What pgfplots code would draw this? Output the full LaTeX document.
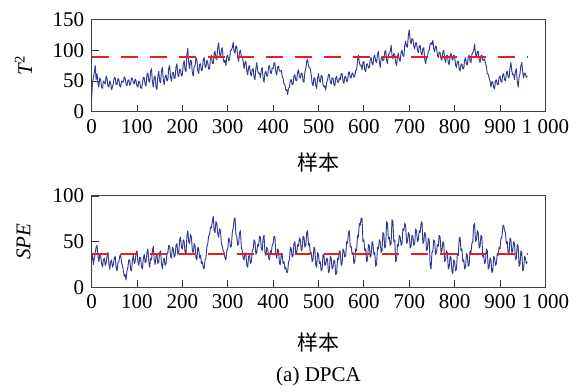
\documentclass[border=0pt]{standalone}
\usepackage{pgfplots}
\pgfplotsset{compat=1.18}
\usepackage{fontspec}
\setmainfont{Liberation Serif}
\newfontfamily\cjk{Noto Sans CJK SC}
\definecolor{lineblue}{RGB}{50,60,145}
\definecolor{thred}{RGB}{235,30,30}
\pgfplotsset{
 myax/.style={scale only axis, width=453.8bp, xmin=0, xmax=1000,
  xtick={0,100,...,1000},
  xticklabels={0,100,200,300,400,500,600,700,800,900,1\ 000},
  tick align=inside, xtick pos=bottom, ytick pos=left,
  major tick length=7bp, tick style={line width=0.9bp, black!80},
  axis line style={line width=1bp, black!75},
  ticklabel style={font=\fontsize{21bp}{24bp}\selectfont},
  xticklabel style={yshift=-4bp},
  yticklabel style={xshift=-4bp},
  /pgf/number format/assume math mode=true,
  label style={font=\fontsize{21bp}{24bp}\selectfont},
  xlabel={\cjk 样本},
  ylabel style={at={(axis description cs:-0.15,0.5)}, anchor=center},
  anchor=south west, clip=true},
 dataline/.style={lineblue, line width=0.95bp, line join=round},
 limline/.style={thred, line width=1.4bp, dash pattern=on 17bp off 12bp},
}
\begin{document}
\begin{tikzpicture}
\useasboundingbox (0,0) rectangle (579bp,392bp);
\begin{axis}[myax, at={(91.6bp,280.3bp)}, height=92.2bp, ymin=0, ymax=150, ytick={0,50,100,150},
  ylabel={\textit{T}\textsuperscript{2}},
  xlabel style={at={(axis description cs:0.5,-0.55)}, anchor=center}]
\addplot[dataline] coordinates {
(0,20)(2,48)(4,55)(6,64)(8,75)(10,52)(12,62)(14,46)(16,40)(18,55)(20,52)(22,40)(24,38)(26,50)(28,48)(30,45)(32,58)(34,54)(36,42)(38,40)(40,50)(42,46)(44,36)(46,40)(48,47)(50,56)(52,55)(54,44)(56,44)(58,54)(60,52)(62,42)(64,40)(66,50)(68,49)(70,48)(72,57)(74,54)(76,45)(78,42)(80,51)(82,52)(84,43)(86,46)(88,55)(90,54)(92,47)(94,45)(96,53)(98,50)(100,42)(102,40)(104,50)(106,48)(108,39)(110,38)(112,46)(114,56)(116,55)(118,44)(120,42)(122,60)(124,63)(126,50)(128,48)(130,66)(132,70)(134,48)(136,40)(138,56)(140,58)(142,40)(144,36)(146,58)(148,66)(150,50)(152,47)(154,67)(156,72)(158,52)(160,44)(162,57)(164,60)(166,50)(168,52)(170,71)(172,75)(174,56)(176,50)(178,63)(180,64)(182,54)(184,55)(186,73)(188,78)(190,60)(192,57)(194,69)(196,68)(198,58)(200,60)(202,77)(204,83)(206,68)(208,65)(210,93)(212,103)(214,80)(216,70)(218,84)(220,82)(222,63)(224,58)(226,73)(228,75)(230,88)(232,85)(234,66)(236,62)(238,77)(240,78)(242,67)(244,68)(246,85)(248,88)(250,73)(252,72)(254,84)(256,80)(258,69)(260,70)(262,88)(264,92)(266,79)(268,78)(270,95)(272,98)(274,86)(276,85)(278,105)(280,112)(282,94)(284,88)(286,101)(288,104)(290,86)(292,80)(294,84)(296,75)(298,90)(300,92)(302,83)(304,85)(306,99)(308,100)(310,104)(312,113)(314,98)(316,95)(318,107)(320,106)(322,88)(324,82)(326,97)(328,100)(330,90)(332,88)(334,83)(336,70)(338,80)(340,82)(342,66)(344,60)(346,73)(348,75)(350,62)(352,58)(354,69)(356,70)(358,56)(360,52)(362,71)(364,80)(366,66)(368,62)(370,63)(372,55)(374,68)(376,72)(378,54)(380,48)(382,63)(384,66)(386,58)(388,58)(390,73)(392,75)(394,64)(396,62)(398,71)(400,70)(402,80)(404,78)(406,64)(408,60)(410,73)(412,74)(414,66)(416,66)(418,67)(420,58)(422,54)(424,45)(426,44)(428,35)(430,36)(432,28)(434,38)(436,40)(438,52)(440,52)(442,44)(444,45)(446,58)(448,60)(450,51)(452,50)(454,65)(456,68)(458,56)(460,55)(462,63)(464,62)(466,50)(468,48)(470,65)(472,70)(474,82)(476,85)(478,74)(480,72)(482,70)(484,60)(486,46)(488,42)(490,55)(492,55)(494,42)(496,38)(498,55)(500,62)(502,50)(504,48)(506,59)(508,58)(510,44)(512,40)(514,42)(516,35)(518,48)(520,52)(522,61)(524,60)(526,48)(528,45)(530,55)(532,55)(534,44)(536,42)(538,55)(540,58)(542,48)(544,48)(546,55)(548,52)(550,62)(552,62)(554,50)(556,46)(558,57)(560,57)(562,49)(564,50)(566,63)(568,65)(570,56)(572,55)(574,63)(576,62)(578,56)(580,58)(582,67)(584,68)(586,84)(588,92)(590,80)(592,75)(594,76)(596,68)(598,80)(600,82)(602,68)(604,65)(606,77)(608,78)(610,71)(612,72)(614,85)(616,88)(618,78)(620,76)(622,89)(624,92)(626,82)(628,80)(630,93)(632,98)(634,81)(636,72)(638,87)(640,90)(642,83)(644,84)(646,97)(648,100)(650,84)(652,78)(654,92)(656,96)(658,98)(660,108)(662,92)(664,86)(666,95)(668,92)(670,80)(672,75)(674,90)(676,95)(678,84)(680,82)(682,97)(684,100)(686,91)(688,90)(690,107)(692,115)(694,106)(696,105)(698,124)(700,133)(702,116)(704,110)(706,119)(708,118)(710,106)(712,102)(714,112)(716,112)(718,100)(720,96)(722,107)(724,108)(726,96)(728,92)(730,103)(732,104)(734,86)(736,78)(738,87)(740,88)(742,99)(744,100)(746,110)(748,112)(750,109)(752,116)(754,102)(756,98)(758,107)(760,105)(762,92)(764,88)(766,97)(768,96)(770,86)(772,84)(774,97)(776,100)(778,86)(780,80)(782,91)(784,92)(786,80)(788,76)(790,91)(792,95)(794,86)(796,84)(798,92)(800,90)(802,76)(804,72)(806,82)(808,82)(810,70)(812,66)(814,77)(816,78)(818,70)(820,70)(822,84)(824,88)(826,78)(828,76)(830,89)(832,92)(834,82)(836,80)(838,93)(840,96)(842,100)(844,110)(846,94)(848,88)(850,98)(852,98)(854,85)(856,80)(858,91)(860,92)(862,84)(864,84)(866,86)(868,78)(870,74)(872,62)(874,61)(876,55)(878,50)(880,40)(882,49)(884,48)(886,40)(888,37)(890,50)(892,52)(894,44)(896,44)(898,56)(900,58)(902,49)(904,48)(906,60)(908,62)(910,52)(912,50)(914,63)(916,66)(918,56)(920,55)(922,72)(924,80)(926,66)(928,60)(930,61)(932,52)(934,66)(936,70)(938,50)(940,40)(942,56)(944,62)(946,75)(948,80)(950,64)(952,55)(954,63)(956,62)(958,56)(960,58)
};
\addplot[limline] coordinates {(0,89) (960,89)};
\end{axis}
\begin{axis}[myax, at={(91.6bp,104.7bp)}, height=91.3bp, ymin=0, ymax=100, ytick={0,50,100},
  ylabel={\textit{SPE}},
  xlabel style={at={(axis description cs:0.5,-0.6)}, anchor=center}]
\addplot[dataline] coordinates {
(0,30)(2,35)(4,25)(6,32)(8,38)(10,44)(12,46)(14,34)(16,28)(18,36)(20,35)(22,26)(24,22)(26,30)(28,32)(30,24)(32,26)(34,35)(36,38)(38,26)(40,20)(42,28)(44,30)(46,22)(48,25)(50,32)(52,34)(54,22)(56,18)(58,27)(60,28)(62,34)(64,36)(66,27)(68,24)(70,18)(72,12)(74,14)(76,8)(78,18)(80,22)(82,30)(84,30)(86,20)(88,18)(90,30)(92,35)(94,26)(96,28)(98,38)(100,40)(102,28)(104,24)(106,33)(108,32)(110,22)(112,20)(114,32)(116,36)(118,27)(120,28)(122,38)(124,42)(126,28)(128,22)(130,32)(132,30)(134,40)(136,45)(138,30)(140,25)(142,34)(144,36)(146,26)(148,28)(150,38)(152,40)(154,26)(156,20)(158,30)(160,32)(162,24)(164,26)(166,36)(168,38)(170,46)(172,45)(174,34)(176,32)(178,44)(180,42)(182,33)(184,35)(186,46)(188,48)(190,36)(192,38)(194,52)(196,55)(198,44)(200,42)(202,52)(204,50)(206,38)(208,36)(210,56)(212,62)(214,50)(216,48)(218,58)(220,55)(222,40)(224,38)(226,48)(228,45)(230,32)(232,30)(234,44)(236,42)(238,32)(240,35)(242,26)(244,28)(246,22)(248,20)(250,30)(252,32)(254,44)(256,48)(258,56)(260,58)(262,66)(264,65)(266,72)(268,78)(270,62)(272,60)(274,72)(276,70)(278,58)(280,55)(282,64)(284,62)(286,48)(288,45)(290,40)(292,38)(294,32)(296,30)(298,40)(300,42)(302,54)(304,52)(306,44)(308,45)(310,60)(312,65)(314,74)(316,76)(318,58)(320,55)(322,46)(324,48)(326,60)(328,62)(330,44)(332,40)(334,32)(336,30)(338,38)(340,36)(342,24)(344,22)(346,34)(348,35)(350,26)(352,28)(354,40)(356,42)(358,52)(360,50)(362,36)(364,38)(366,47)(368,45)(370,56)(372,55)(374,42)(376,40)(378,54)(380,57)(382,38)(384,35)(386,44)(388,42)(390,32)(392,30)(394,40)(396,38)(398,46)(400,48)(402,56)(404,55)(406,36)(408,32)(410,42)(412,40)(414,26)(416,25)(418,36)(420,35)(422,26)(424,28)(426,20)(428,22)(430,16)(432,17)(434,28)(436,30)(438,44)(440,42)(442,33)(444,35)(446,48)(448,50)(450,36)(452,38)(454,47)(456,45)(458,54)(460,52)(462,40)(464,42)(466,56)(468,55)(470,44)(472,46)(474,60)(476,62)(478,46)(480,48)(482,36)(484,38)(486,28)(488,30)(490,44)(492,42)(494,24)(496,22)(498,38)(500,36)(502,26)(504,28)(506,18)(508,20)(510,36)(512,35)(514,24)(516,25)(518,32)(520,30)(522,16)(524,18)(526,34)(528,32)(530,20)(532,22)(534,30)(536,28)(538,14)(540,15)(542,32)(544,30)(546,40)(548,38)(550,24)(552,26)(554,42)(556,40)(558,33)(560,35)(562,50)(564,48)(566,60)(568,62)(570,44)(572,45)(574,36)(576,38)(578,26)(580,28)(582,42)(584,40)(586,57)(588,55)(590,70)(592,68)(594,76)(596,75)(598,50)(600,52)(602,40)(604,42)(606,28)(608,30)(610,47)(612,45)(614,33)(616,35)(618,50)(620,48)(622,36)(624,38)(626,23)(628,25)(630,44)(632,42)(634,52)(636,50)(638,38)(640,40)(642,60)(644,58)(646,43)(648,45)(650,72)(652,70)(654,53)(656,55)(658,46)(660,48)(662,74)(664,72)(666,50)(668,52)(670,28)(672,30)(674,47)(676,45)(678,57)(680,55)(682,46)(684,48)(686,64)(688,62)(690,70)(692,68)(694,48)(696,50)(698,60)(700,58)(702,43)(704,45)(706,57)(708,55)(710,46)(712,48)(714,64)(716,62)(718,50)(720,52)(722,62)(724,60)(726,70)(728,72)(730,48)(732,50)(734,60)(736,58)(738,40)(740,42)(742,54)(744,52)(746,24)(748,20)(750,38)(752,40)(754,52)(756,50)(758,36)(760,38)(762,47)(764,45)(766,57)(768,55)(770,38)(772,40)(774,50)(776,48)(778,28)(780,30)(782,40)(784,38)(786,20)(788,22)(790,34)(792,32)(794,17)(796,15)(798,30)(800,28)(802,18)(804,20)(806,37)(808,35)(810,53)(812,55)(814,40)(816,42)(818,28)(820,30)(822,20)(824,22)(826,37)(828,35)(830,23)(832,25)(834,40)(836,38)(838,48)(840,50)(842,68)(844,70)(846,50)(848,52)(850,62)(852,60)(854,43)(856,45)(858,57)(860,55)(862,33)(864,35)(866,26)(868,28)(870,42)(872,40)(874,20)(876,22)(878,32)(880,30)(882,16)(884,18)(886,34)(888,32)(890,24)(892,26)(894,37)(896,35)(898,44)(900,42)(902,53)(904,55)(906,66)(908,68)(910,62)(912,60)(914,48)(916,50)(918,36)(920,38)(922,54)(924,52)(926,38)(928,40)(930,50)(932,48)(934,30)(936,32)(938,47)(940,45)(942,23)(944,25)(946,40)(948,38)(950,18)(952,20)(954,34)(956,32)(958,26)(960,28)
};
\addplot[limline] coordinates {(0,36.6) (960,36.6)};
\end{axis}
\node[font=\fontsize{21bp}{24bp}\selectfont] at (318.5bp,16bp) {(a) DPCA};
\end{tikzpicture}
\end{document}
